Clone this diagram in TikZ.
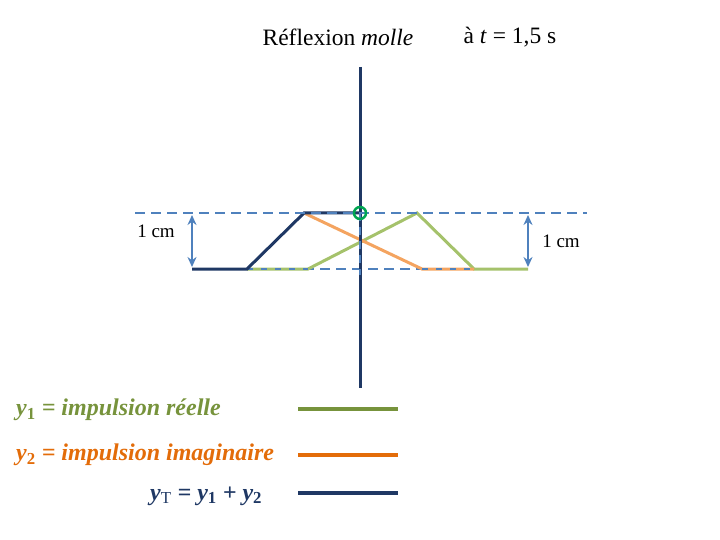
\documentclass[tikz,border=0pt]{standalone}
\usepackage{fontspec}
\setmainfont{Liberation Serif}
\usetikzlibrary{arrows.meta}
\definecolor{navy}{HTML}{1F3864}
\definecolor{steel}{HTML}{4F81BD}
\definecolor{pgreen}{HTML}{A5C26B}
\definecolor{porange}{HTML}{F4A460}
\definecolor{lgreen}{HTML}{77933C}
\definecolor{lorange}{HTML}{E36C09}
\definecolor{mark}{HTML}{00A651}
\tikzset{
  dashref/.style={steel, line width=2pt, dash pattern=on 10pt off 6pt},
  pulse/.style={line width=3pt, line join=miter},
  dimarrow/.style={steel, line width=2pt, {Stealth[length=10pt,width=9pt]}-{Stealth[length=10pt,width=9pt]}},
  lab/.style={inner sep=0pt, font=\fontsize{19}{22}\selectfont},
  leg/.style={inner sep=0pt, anchor=west, font=\fontsize{24}{28}\selectfont\bfseries\itshape},
  legline/.style={line width=4pt}
}
\begin{document}
\begin{tikzpicture}[x=1pt,y=-1pt]
\useasboundingbox (0,0) rectangle (720,540);
% reference coordinates
\coordinate (tl) at (135,213);
\coordinate (tr) at (587,213);
\coordinate (bl) at (192,269);
\coordinate (br) at (528,269);
\coordinate (vt) at (360,67);
\coordinate (vb) at (360,388);
\coordinate (m) at (360,213);
% baseline
\draw[dashref] (bl) -- (br);
% green pulse y1
\coordinate (g1) at (247,269);
\coordinate (g2) at (308,269);
\coordinate (g3) at (417,213);
\coordinate (g4) at (474,269);
\draw[pulse, pgreen] (g1) -- (g2) -- (g3) -- (g4) -- (br);
% orange pulse y2
\coordinate (o1) at (304,213);
\coordinate (o2) at (422,269);
\draw[pulse, porange] (o1) -- (o2) -- (g4);
% overlays of baseline dashes
\draw[steel, line width=1.5pt, dash pattern=on 6pt off 8pt] (g1) -- (g2);
\draw[steel, line width=1.5pt, dash pattern=on 6pt off 8pt] (o2) -- (g4);
% navy sum
\draw[pulse, navy] (bl) -- (g1) -- (o1) -- (m);
% vertical axis
\draw[navy, line width=3pt] (vt) -- (vb);
\draw[steel, line width=1.5pt, dash pattern=on 8pt off 6pt] (m) -- (360,275);
% top dashed line
\draw[dashref] (tl) -- (tr);
% point marker
\node[circle, draw=mark, line width=2.5pt, minimum size=12pt, inner sep=0pt] (pt) at (m) {};
% dimension arrows
\coordinate (la) at (192,215);
\coordinate (lb) at (192,267);
\coordinate (ra) at (528,215);
\coordinate (rb) at (528,267);
\draw[dimarrow] (la) -- (lb);
\draw[dimarrow] (ra) -- (rb);
\node[lab] (l1) at (156,231) {1 cm};
\node[lab] (l2) at (561,241) {1 cm};
% titles
\node[inner sep=0pt, font=\fontsize{23.5}{27}\selectfont] (t1) at (338,37) {Réflexion \textit{molle}};
\node[inner sep=0pt, font=\fontsize{23.5}{27}\selectfont] (t2) at (510,37) {à \textit{t} = 1,5 s};
% legend
\node[leg, lgreen] (y1) at (16,410) {y\textsubscript{\upshape 1} = impulsion réelle};
\node[leg, lorange] (y2) at (16,455) {y\textsubscript{\upshape 2} = impulsion imaginaire};
\node[leg, navy] (yT) at (150,496) {y\textsubscript{\upshape\mdseries T} = y\textsubscript{\upshape 1} + y\textsubscript{\upshape 2}};
\coordinate (a1) at (298,409); \coordinate (b1) at (398,409);
\coordinate (a2) at (298,455); \coordinate (b2) at (398,455);
\coordinate (a3) at (298,493); \coordinate (b3) at (398,493);
\draw[legline, lgreen] (a1) -- (b1);
\draw[legline, lorange] (a2) -- (b2);
\draw[legline, navy] (a3) -- (b3);
\end{tikzpicture}
\end{document}
